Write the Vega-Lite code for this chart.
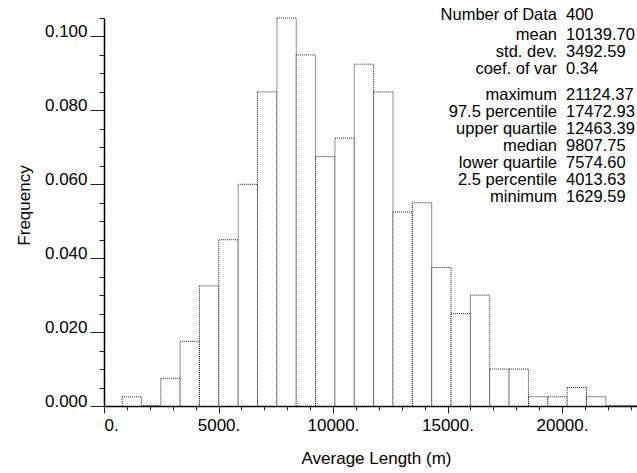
{
  "$schema": "https://vega.github.io/schema/vega-lite/v6.json",
  "width": 533,
  "height": 388,
  "autosize": {"type": "none"},
  "padding": {"left": 104, "top": 18, "right": 0, "bottom": 67},
  "background": "white",
  "config": {
    "view": {"stroke": null},
    "font": "Liberation Sans",
    "axis": {
      "labelFont": "Liberation Sans",
      "titleFont": "Liberation Sans",
      "labelFontSize": 17,
      "titleFontSize": 17,
      "titleFontWeight": "normal",
      "labelColor": "#000",
      "titleColor": "#000",
      "domainColor": "#000",
      "domainWidth": 1.5,
      "tickColor": "#222",
      "grid": false
    }
  },
  "datasets": {
    "bins": [
      {"bin_start": 790, "bin_end": 1635, "frequency": 0.0025},
      {"bin_start": 1635, "bin_end": 2480, "frequency": 0.0},
      {"bin_start": 2480, "bin_end": 3325, "frequency": 0.0075},
      {"bin_start": 3325, "bin_end": 4170, "frequency": 0.0175},
      {"bin_start": 4170, "bin_end": 5015, "frequency": 0.0325},
      {"bin_start": 5015, "bin_end": 5860, "frequency": 0.045},
      {"bin_start": 5860, "bin_end": 6705, "frequency": 0.06},
      {"bin_start": 6705, "bin_end": 7550, "frequency": 0.085},
      {"bin_start": 7550, "bin_end": 8395, "frequency": 0.105},
      {"bin_start": 8395, "bin_end": 9240, "frequency": 0.095},
      {"bin_start": 9240, "bin_end": 10085, "frequency": 0.0675},
      {"bin_start": 10085, "bin_end": 10930, "frequency": 0.0725},
      {"bin_start": 10930, "bin_end": 11775, "frequency": 0.0925},
      {"bin_start": 11775, "bin_end": 12620, "frequency": 0.085},
      {"bin_start": 12620, "bin_end": 13465, "frequency": 0.0525},
      {"bin_start": 13465, "bin_end": 14310, "frequency": 0.055},
      {"bin_start": 14310, "bin_end": 15155, "frequency": 0.0375},
      {"bin_start": 15155, "bin_end": 16000, "frequency": 0.025},
      {"bin_start": 16000, "bin_end": 16845, "frequency": 0.03},
      {"bin_start": 16845, "bin_end": 17690, "frequency": 0.01},
      {"bin_start": 17690, "bin_end": 18535, "frequency": 0.01},
      {"bin_start": 18535, "bin_end": 19380, "frequency": 0.0025},
      {"bin_start": 19380, "bin_end": 20225, "frequency": 0.0025},
      {"bin_start": 20225, "bin_end": 21070, "frequency": 0.005},
      {"bin_start": 21070, "bin_end": 21915, "frequency": 0.0025},
      {"bin_start": 21915, "bin_end": 22760, "frequency": 0.0},
      {"bin_start": 22760, "bin_end": 23275, "frequency": 0.0}
    ],
    "stats": [
      {"label": "Number of Data", "value": "400", "line": 1, "block": 1},
      {"label": "mean", "value": "10139.70", "line": 2, "block": 2},
      {"label": "std. dev.", "value": "3492.59", "line": 3, "block": 2},
      {"label": "coef. of var", "value": "0.34", "line": 4, "block": 2},
      {"label": "maximum", "value": "21124.37", "line": 5, "block": 3},
      {"label": "97.5 percentile", "value": "17472.93", "line": 6, "block": 3},
      {"label": "upper quartile", "value": "12463.39", "line": 7, "block": 3},
      {"label": "median", "value": "9807.75", "line": 8, "block": 3},
      {"label": "lower quartile", "value": "7574.60", "line": 9, "block": 3},
      {"label": "2.5 percentile", "value": "4013.63", "line": 10, "block": 3},
      {"label": "minimum", "value": "1629.59", "line": 11, "block": 3}
    ]
  },
  "resolve": {
    "scale": {"y": "independent"},
    "axis": {"x": "independent", "y": "independent"}
  },
  "layer": [
    {
      "data": {"name": "bins"},
      "mark": {"type": "rect", "fill": "white", "stroke": "#222", "strokeWidth": 1, "strokeDash": [1, 1]},
      "encoding": {
        "x": {
          "field": "bin_start", "type": "quantitative",
          "scale": {"domain": [0, 23275], "nice": false, "zero": false},
          "axis": {
            "orient": "bottom",
            "values": [0, 5000, 10000, 15000, 20000],
            "labelExpr": "datum.value + '.'",
            "tickSize": 7,
            "labelPadding": 4,
            "title": "Average Length (m)",
            "titlePadding": 17,
            "titleX": 272
          }
        },
        "x2": {"field": "bin_end"},
        "y": {
          "field": "frequency", "type": "quantitative",
          "scale": {"domain": [0, 0.105], "nice": false},
          "axis": {
            "orient": "left",
            "values": [0, 0.02, 0.04, 0.06, 0.08, 0.1],
            "format": ".3f",
            "tickSize": 14,
            "labelPadding": 3,
            "labelBaseline": "alphabetic",
            "title": "Frequency",
            "titlePadding": 11,
            "titleY": 187
          }
        },
        "y2": {"datum": 0}
      }
    },
    {
      "data": {"name": "bins"},
      "mark": {"type": "rect", "opacity": 0},
      "encoding": {
        "x": {
          "field": "bin_start", "type": "quantitative",
          "scale": {"domain": [0, 23275], "nice": false, "zero": false},
          "axis": {
            "orient": "bottom",
            "values": [1000, 2000, 3000, 4000, 6000, 7000, 8000, 9000, 11000, 12000, 13000, 14000, 16000, 17000, 18000, 19000, 21000, 22000, 23000],
            "labels": false,
            "domain": false,
            "tickSize": 4,
            "title": null
          }
        },
        "x2": {"field": "bin_end"},
        "y": {
          "field": "frequency", "type": "quantitative",
          "scale": {"domain": [0, 0.105], "nice": false},
          "axis": {
            "orient": "left",
            "values": [0.005, 0.01, 0.015, 0.025, 0.03, 0.035, 0.045, 0.05, 0.055, 0.065, 0.07, 0.075, 0.085, 0.09, 0.095, 0.105],
            "labels": false,
            "domain": false,
            "tickSize": 5,
            "title": null
          }
        },
        "y2": {"datum": 0}
      }
    },
    {
      "data": {"name": "stats"},
      "mark": {"type": "text", "align": "right", "baseline": "middle", "fontSize": 16.5, "font": "Liberation Sans", "color": "#000"},
      "encoding": {
        "x": {"datum": 19782, "type": "quantitative", "axis": null},
        "y": {"field": "line", "type": "ordinal", "scale": {"type": "point", "range": [-3, 167], "padding": 0}, "axis": null},
        "yOffset": {"field": "block", "type": "quantitative", "scale": {"domain": [1, 2, 3], "range": [0, 3, 12]}},
        "text": {"field": "label"}
      }
    },
    {
      "data": {"name": "stats"},
      "mark": {"type": "text", "align": "left", "baseline": "middle", "fontSize": 16.5, "font": "Liberation Sans", "color": "#000"},
      "encoding": {
        "x": {"datum": 20175, "type": "quantitative", "axis": null},
        "y": {"field": "line", "type": "ordinal", "scale": {"type": "point", "range": [-3, 167], "padding": 0}, "axis": null},
        "yOffset": {"field": "block", "type": "quantitative", "scale": {"domain": [1, 2, 3], "range": [0, 3, 12]}},
        "text": {"field": "value"}
      }
    }
  ]
}
